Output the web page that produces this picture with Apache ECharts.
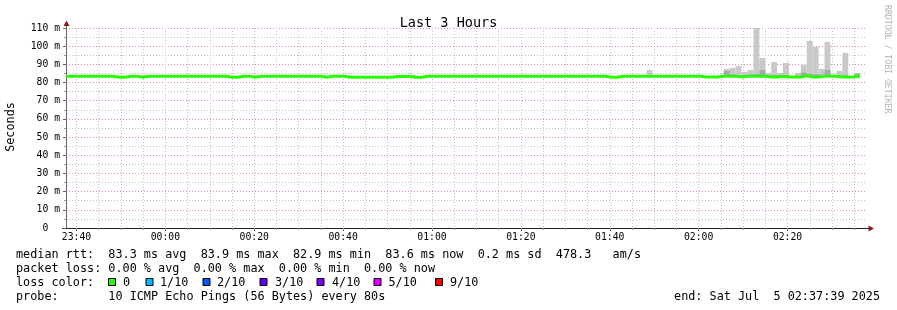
<!DOCTYPE html>
<html><head><meta charset="utf-8">
<script src="https://cdn.jsdelivr.net/npm/echarts@6/dist/echarts.min.js"></script>
<style>html,body{margin:0;padding:0;background:#fff}#c{width:897px;height:310px}</style>
</head><body><div id="c"></div>
<script>
// ---------- data ----------
const startClock = '23:37:39';
const spanSec = 10800;      // 3 hours
const stepSec = 80;         // rrd step
const xTickLabels = ['23:40','00:00','00:20','00:40','01:00','01:20','01:40','02:00','02:20'];
const minorTickMinutes = 5;

// median rtt per step (ms)
const median = [
  83.4,83.4,83.4,83.4,83.4,83.4,83.4,83.4,82.9,82.9,
  83.4,83.4,82.9,83.4,83.4,83.4,83.4,83.4,83.4,83.4,
  83.4,83.4,83.4,83.4,83.4,83.4,83.4,82.9,82.9,83.4,
  83.4,82.9,83.4,83.4,83.4,83.4,83.4,83.4,83.4,83.4,
  83.4,83.4,83.4,82.9,83.4,83.4,83.4,82.9,82.9,82.9,
  82.9,82.9,82.9,82.9,82.9,83.3,83.3,83.3,82.9,82.9,
  83.4,83.4,83.4,83.4,83.4,83.4,83.4,83.4,83.4,83.4,
  83.4,83.5,83.5,83.5,83.4,83.4,83.5,83.5,83.5,83.4,
  83.4,83.4,83.4,83.4,83.4,83.4,83.4,83.4,83.4,83.4,
  83.4,82.9,82.9,83.4,83.4,83.4,83.4,83.4,83.4,83.4,
  83.4,83.4,83.4,83.4,83.4,83.4,83.4,83.0,83.0,83.0,
  83.5,83.5,83.5,83.0,83.5,83.5,83.5,83.5,83.0,83.0,
  83.5,83.0,83.0,83.0,83.9,83.0,83.0,83.5,83.5,83.5,
  83.0,83.0,83.0,83.6
];

// visible smoke (ping spread) per step index
const smokeSteps = [98, 111,112,113,114,115,116,117,118,119,120,121,123,124,125,126,127,128,130,131,133];
const smokeLow   = [83.2,83.2,83.2,82.8,83.2,83.2,83.2,83.2,82.8,82.8,83.2,82.8,82.8,83.4,82.8,82.8,83.2,83.2,82.8,82.8,83.2];
const smokeInner = [84.0,86.4,84.2,84.0,84.0,84.2,84.5,86.9,83.8,84.0,84.0,84.0,83.8,85.5,84.8,84.5,84.2,86.9,84.0,84.2,84.8];
const smokeHigh  = [86.9,87.5,88.0,89.1,85.8,86.9,110.0,93.5,85.3,91.3,85.3,90.8,85.3,89.7,102.9,99.6,87.5,102.3,86.4,96.3,85.3];

const legendLines = [
  'median rtt:  83.3 ms avg  83.9 ms max  82.9 ms min  83.6 ms now  0.2 ms sd  478.3   am/s',
  'packet loss: 0.00 % avg  0.00 % max  0.00 % min  0.00 % now',
  'loss color:',
  'probe:       10 ICMP Echo Pings (56 Bytes) every 80s'
];
const lossLabels = ['0','1/10','2/10','3/10','4/10','5/10','9/10'];
const lossColors = ['#26ff00','#00b8ff','#0059ff','#5e00ff','#7e00ff','#dd00ff','#ff0000'];
const endText = 'end: Sat Jul  5 02:37:39 2025';

// ---------- derived ----------
function clockSec(s){const p=s.split(':').map(Number);return p[0]*3600+p[1]*60+(p[2]||0);}
const startSec = clockSec(startClock);
function offsetOf(label){let d=clockSec(label)-startSec;if(d<0)d+=86400;return d;}
const majorTicks = xTickLabels.map(offsetOf);
const minorTicks = [];
for (let t = majorTicks[0] % (minorTickMinutes*60); t <= spanSec; t += minorTickMinutes*60) minorTicks.push(t);
const labelByTick = {}; majorTicks.forEach((t,i)=>labelByTick[t]=xTickLabels[i]);

const lineData = median.map((v,i)=>[i*stepSec, v]);
lineData.push([median.length*stepSec, median[median.length-1]]);
const outerData = smokeSteps.map((s,i)=>[s*stepSec, smokeLow[i], smokeHigh[i]]);
const innerData = smokeSteps.map((s,i)=>[s*stepSec, smokeLow[i], smokeInner[i]]);

const MONO = '"DejaVu Sans Mono", monospace';
const G = {left:66, top:28, width:800, height:200};
const MAJOR = '#ec8c8c', MINOR = '#c2c2c2';
const DOT = [1,2];

function smokeRender(color){
  return function(params, api){
    const t = api.value(0), lo = api.value(1), hi = api.value(2);
    const p0 = api.coord([t, lo]);
    const p1 = api.coord([t + stepSec, hi]);
    return {type:'rect', shape:{x:p0[0], y:p1[1], width:p1[0]-p0[0], height:p0[1]-p1[1]},
            style:{fill:color}};
  };
}

const graphics = [];
const rowY = [254.5, 268.5, 282.5, 296.5];
legendLines.forEach((txt,i)=>{
  graphics.push({type:'text', style:{text:txt, x:16, y:rowY[i], font:'11.8px '+MONO, fill:'#000', textVerticalAlign:'middle'}});
});
const boxX = [108.5, 146, 203, 260, 317, 374, 435.5];
const lblX = [123, 160, 217, 275, 332, 388.5, 450];
lossLabels.forEach((l,i)=>{
  graphics.push({type:'rect', shape:{x:boxX[i], y:278.5, width:7, height:7}, style:{fill:lossColors[i], stroke:'#000', lineWidth:1}});
  graphics.push({type:'text', style:{text:l, x:lblX[i], y:rowY[2], font:'11.8px '+MONO, fill:'#000', textVerticalAlign:'middle'}});
});
graphics.push({type:'text', style:{text:endText, x:880, y:rowY[3], font:'11.8px '+MONO, fill:'#000', textAlign:'right', textVerticalAlign:'middle'}});
graphics.push({type:'text', x:11, y:127, rotation:Math.PI/2, style:{text:'Seconds', x:0, y:0, font:'11.8px '+MONO, fill:'#000', textAlign:'center', textVerticalAlign:'middle'}});
graphics.push({type:'text', x:887, y:5, rotation:-Math.PI/2, style:{text:'RRDTOOL / TOBI OETIKER', x:0, y:0, font:'8.2px '+MONO, fill:'#b4b4b4', textAlign:'left', textVerticalAlign:'middle'}});
graphics.push({type:'line', shape:{x1:66.5, y1:28, x2:66.5, y2:24}, style:{stroke:'#666', lineWidth:1}});
graphics.push({type:'polygon', shape:{points:[[66.5,20.5],[63.5,26],[69.5,26]]}, style:{fill:'#8b1a1a'}});
graphics.push({type:'line', shape:{x1:62, y1:228.5, x2:66, y2:228.5}, style:{stroke:'#222', lineWidth:1}});
graphics.push({type:'line', shape:{x1:866, y1:228.5, x2:869, y2:228.5}, style:{stroke:'#222', lineWidth:1}});
graphics.push({type:'polygon', shape:{points:[[874,228.5],[868.5,225.5],[868.5,231.5]]}, style:{fill:'#8b1a1a'}});

const option = {
  animation:false,
  backgroundColor:'#fff',
  title:{text:'Last 3 Hours', left:'center', top:11, textStyle:{fontFamily:MONO, fontSize:13.5, fontWeight:'normal', color:'#000'}},
  grid:G,
  xAxis:[
    {type:'value', min:0, max:spanSec, position:'bottom',
     axisLine:{show:true, lineStyle:{color:'#222', width:1}},
     axisTick:{show:true, customValues:majorTicks, length:3, lineStyle:{color:'#444'}},
     axisLabel:{show:true, customValues:majorTicks, margin:4, fontFamily:MONO, fontSize:9.75, color:'#000',
       formatter:v=>labelByTick[v]||''},
     splitLine:{show:true, lineStyle:{color:MAJOR, type:DOT, width:1}}},
    {type:'value', min:0, max:spanSec, position:'bottom',
     axisLine:{show:false}, axisLabel:{show:false},
     axisTick:{show:true, customValues:minorTicks, length:2, lineStyle:{color:'#999'}},
     splitLine:{show:true, lineStyle:{color:MINOR, type:DOT, width:1}}}
  ],
  yAxis:[{type:'value', min:0, max:110, interval:10,
    axisLine:{show:true, lineStyle:{color:'#666'}},
    axisTick:{show:true, length:3, lineStyle:{color:'#666'}},
    minorTick:{show:true, splitNumber:2, length:2, lineStyle:{color:'#999'}},
    axisLabel:{margin:6, fontFamily:MONO, fontSize:9.75, color:'#000', formatter:v=> v===0 ? '0  ' : v+' m'},
    splitLine:{show:true, lineStyle:{color:MAJOR, type:DOT, width:1}},
    minorSplitLine:{show:true, lineStyle:{color:MINOR, type:DOT, width:1}}
  }],
  series:[
    {type:'custom', name:'smoke', xAxisIndex:0, yAxisIndex:0, clip:true, renderItem:smokeRender('#c9c9c9'),
     encode:{x:0, y:[1,2]}, data:outerData, z:2, silent:true},
    {type:'custom', name:'smoke inner', xAxisIndex:0, yAxisIndex:0, clip:true, renderItem:smokeRender('#a8a8a8'),
     encode:{x:0, y:[1,2]}, data:innerData, z:3, silent:true},
    {type:'line', name:'median rtt', xAxisIndex:0, yAxisIndex:0, step:'end', showSymbol:false, symbol:'none',
     data:lineData, lineStyle:{color:'#26ff00', width:3, cap:'butt', join:'miter'}, z:5, silent:true}
  ],
  graphic:graphics
};
const chart = echarts.init(document.getElementById('c'), null, {renderer:'canvas'});
chart.setOption(option);
</script>
</body></html>
